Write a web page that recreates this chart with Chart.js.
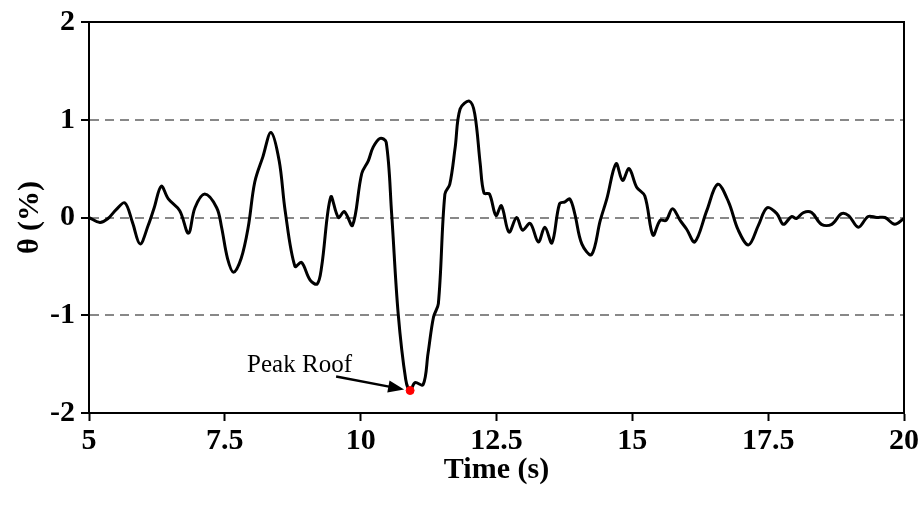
<!DOCTYPE html>
<html>
<head>
<meta charset="utf-8">
<script src="https://cdn.jsdelivr.net/npm/chart.js@4"></script>
<style>
    html, body { margin: 0; padding: 0; background: #fff; }
    #wrap { width: 921px; height: 512px; }
</style>
</head>
<body>
<div id="wrap"><canvas id="grafico"></canvas></div>
<script>
const tempos = [
    5.0, 5.2, 5.35, 5.5, 5.66, 5.8, 5.94, 6.09, 6.2, 6.33, 6.46, 6.67, 6.83, 6.95,
    7.13, 7.35, 7.44, 7.55, 7.66, 7.8, 7.93, 8.05, 8.2, 8.35, 8.5, 8.61, 8.79, 8.91,
    9.07, 9.2, 9.28, 9.45, 9.59, 9.7, 9.85, 10.02, 10.14, 10.23, 10.36, 10.47, 10.57,
    10.69, 10.83, 10.91, 11.0, 11.15, 11.24, 11.34, 11.43, 11.55, 11.64, 11.74, 11.83,
    12.0, 12.1, 12.2, 12.27, 12.37, 12.49, 12.59, 12.73, 12.87, 12.98, 13.12, 13.27,
    13.39, 13.52, 13.66, 13.76, 13.85, 13.94, 14.07, 14.25, 14.41, 14.53, 14.7, 14.82,
    14.94, 15.08, 15.23, 15.38, 15.51, 15.62, 15.74, 15.88, 16.0, 16.15, 16.37, 16.57,
    16.77, 16.95, 17.14, 17.32, 17.48, 17.66, 17.78, 17.93, 18.02, 18.15, 18.3, 18.48,
    18.67, 18.85, 18.98, 19.16, 19.34, 19.5, 19.65, 19.83, 20.0
];
const theta = [
    0.0, -0.05, -0.01, 0.08, 0.15, -0.05, -0.27, -0.08, 0.1, 0.32, 0.19, 0.07, -0.16, 0.10,
    0.24, 0.10, -0.10, -0.42, -0.56, -0.42, -0.1, 0.36, 0.62, 0.87, 0.58, 0.07, -0.50, -0.46,
    -0.64, -0.68, -0.51, 0.21, 0.0, 0.06, -0.08, 0.45, 0.58, 0.72, 0.81, 0.77, 0.04,
    -0.98, -1.66, -1.77, -1.69, -1.71, -1.39, -1.02, -0.88, 0.24, 0.34, 0.72, 1.11,
    1.19, 1.06, 0.55, 0.25, 0.24, 0.02, 0.12, -0.15, 0.0, -0.13, -0.06, -0.25,
    -0.10, -0.26, 0.14, 0.16, 0.19, 0.04, -0.27, -0.38, -0.03, 0.19, 0.55, 0.38,
    0.50, 0.31, 0.22, -0.18, -0.03, -0.03, 0.09, -0.03, -0.12, -0.25, 0.07, 0.34,
    0.16, -0.13, -0.28, -0.08, 0.10, 0.04, -0.07, 0.01, -0.01, 0.05, 0.05, -0.07,
    -0.07, 0.04, 0.02, -0.10, 0.01, 0.0, 0.0, -0.07, -0.01
];
const picoTempo = [10.91];
const picoTheta = [-1.77];
const textoPico = 'Peak Roof';
const ticksX = [5, 7.5, 10, 12.5, 15, 17.5, 20];
const ticksY = [-2, -1, 0, 1, 2];

const FONTE = '"Liberation Serif", "Times New Roman", serif';

// moldura (topo e direita) + seta e texto do pico
const extras = {
    id: 'extras',
    afterDatasetsDraw(chart) {
        const { ctx, chartArea: a, scales } = chart;
        ctx.save();
        ctx.strokeStyle = '#000';
        ctx.lineWidth = 2;
        ctx.strokeRect(a.left, a.top, a.right - a.left, a.bottom - a.top);

        const px = scales.x.getPixelForValue(picoTempo[0]);
        const py = scales.y.getPixelForValue(picoTheta[0]);
        const x0 = px - 74, y0 = py - 14;
        const x1 = px - 6, y1 = py - 1;
        const ang = Math.atan2(y1 - y0, x1 - x0);
        ctx.lineWidth = 2.5;
        ctx.beginPath();
        ctx.moveTo(x0, y0);
        ctx.lineTo(x1 - 10 * Math.cos(ang), y1 - 10 * Math.sin(ang));
        ctx.stroke();
        ctx.fillStyle = '#000';
        ctx.beginPath();
        ctx.moveTo(x1, y1);
        ctx.lineTo(x1 - 16 * Math.cos(ang) + 6 * Math.sin(ang), y1 - 16 * Math.sin(ang) - 6 * Math.cos(ang));
        ctx.lineTo(x1 - 16 * Math.cos(ang) - 6 * Math.sin(ang), y1 - 16 * Math.sin(ang) + 6 * Math.cos(ang));
        ctx.closePath();
        ctx.fill();

        ctx.font = '25px ' + FONTE;
        ctx.textAlign = 'left';
        ctx.textBaseline = 'alphabetic';
        ctx.fillText(textoPico, px - 163, py - 19);
        ctx.restore();
    }
};

new Chart(document.getElementById('grafico'), {
    type: 'line',
    data: {
        datasets: [{
            data: tempos.map((t, i) => ({ x: t, y: theta[i] })),
            borderColor: '#000',
            borderWidth: 3,
            pointRadius: 0,
            tension: 0.35,
            order: 2
        }, {
            type: 'scatter',
            data: picoTempo.map((t, i) => ({ x: t, y: picoTheta[i] })),
            backgroundColor: '#ff0000',
            borderColor: '#ff0000',
            pointRadius: 4,
            order: 1
        }]
    },
    options: {
        responsive: true,
        maintainAspectRatio: false,
        animation: false,
        layout: { padding: { top: 22, right: 17, left: 0, bottom: 0 } },
        plugins: { legend: { display: false }, tooltip: { enabled: false } },
        scales: {
            x: {
                type: 'linear',
                min: 5, max: 20,
                afterBuildTicks: axis => { axis.ticks = ticksX.map(v => ({ value: v })); },
                afterFit: axis => { axis.height = 99; },
                ticks: {
                    color: '#000',
                    font: { family: FONTE, size: 30, weight: 'bold', lineHeight: 1.2 },
                    padding: 2,
                    maxRotation: 0
                },
                grid: {
                    drawOnChartArea: false,
                    tickLength: 8,
                    tickColor: '#000',
                    tickWidth: 2
                },
                border: { color: '#000', width: 2 },
                title: {
                    display: true,
                    text: 'Time (s)',
                    color: '#000',
                    font: { family: FONTE, size: 30, weight: 'bold' },
                    padding: { top: 0, bottom: 24 }
                }
            },
            y: {
                min: -2, max: 2,
                afterBuildTicks: axis => { axis.ticks = ticksY.map(v => ({ value: v })); },
                afterFit: axis => { axis.width = 89; },
                ticks: {
                    color: '#000',
                    font: { family: FONTE, size: 30, weight: 'bold', lineHeight: 1 },
                    padding: 6
                },
                grid: {
                    color: c => (c.tick.value === 2 || c.tick.value === -2) ? 'rgba(0,0,0,0)' : '#888',
                    lineWidth: 2,
                    tickColor: '#000',
                    tickWidth: 2,
                    tickLength: 8
                },
                border: { color: '#000', width: 2, dash: [9, 6] },
                title: {
                    display: true,
                    text: 'θ (%)',
                    color: '#000',
                    font: { family: FONTE, size: 30, weight: 'bold' },
                    padding: { top: 12, bottom: 0 }
                }
            }
        }
    },
    plugins: [extras]
});
</script>
</body>
</html>
